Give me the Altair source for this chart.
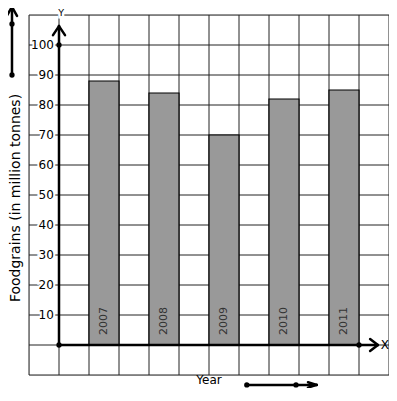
import altair as alt
import pandas as pd

# ---- data ----
years = ["2007", "2008", "2009", "2010", "2011"]
values = [88, 84, 70, 82, 85]
tick_values = [10, 20, 30, 40, 50, 60, 70, 80, 90, 100]

FONT = "DejaVu Sans"
XS = alt.Scale(domain=[0, 12], nice=False, zero=False)
YS = alt.Scale(domain=[-10, 110], nice=False, zero=False)


def X(f):
    return alt.X(f, type="quantitative", scale=XS, axis=None)


def Y(f):
    return alt.Y(f, type="quantitative", scale=YS, axis=None)


def X2(f):
    return alt.X2(f)


def Y2(f):
    return alt.Y2(f)


# bar slots (every other grid column, starting at column 2)
bars = pd.DataFrame({
    "year": years,
    "value": values,
    "x0": [2 + 2 * i for i in range(len(years))],
})
bars["x1"] = bars["x0"] + 1
bars["xc"] = bars["x0"] + 0.5
bars["ylab"] = 3.3
bars["zero"] = 0

# grid lines
vgrid = pd.DataFrame({"x": list(range(0, 13)), "y0": -10, "y1": 110})
hgrid = pd.DataFrame({"y": list(range(-10, 111, 10)), "x0": 0, "x1": 12})

grid_v = alt.Chart(vgrid).mark_rule(color="#222", strokeWidth=1).encode(
    x=X("x"), y=Y("y0"), y2=Y2("y1"))
grid_h = alt.Chart(hgrid).mark_rule(color="#222", strokeWidth=1).encode(
    y=Y("y"), x=X("x0"), x2=X2("x1"))

bar_layer = alt.Chart(bars).mark_rect(fill="#999999", stroke="black", strokeWidth=1.2).encode(
    x=X("x0"), x2=X2("x1"), y=Y("zero"), y2=Y2("value"))

bar_text = alt.Chart(bars).mark_text(
    angle=270, align="left", baseline="middle", font=FONT, fontSize=11, color="#333"
).encode(x=X("xc"), y=Y("ylab"), text="year:N")

# tick labels with white halo (hides grid line behind the number)
ticks = pd.DataFrame({"v": tick_values, "lbl": [str(v) for v in tick_values], "x": 0.83})
tick_halo = alt.Chart(ticks).mark_text(
    align="right", baseline="middle", font=FONT, fontSize=12, fill="white",
    stroke="white", strokeWidth=4
).encode(x=X("x"), y=Y("v"), text="lbl:N")
tick_text = alt.Chart(ticks).mark_text(
    align="right", baseline="middle", font=FONT, fontSize=12, color="black"
).encode(x=X("x"), y=Y("v"), text="lbl:N")

# axis lines (segments) and arrowheads
segs = pd.DataFrame([
    # y axis
    {"x0": 1, "y0": 0, "x1": 1, "y1": 106.3},
    {"x0": 0.8, "y0": 103.3, "x1": 1, "y1": 106.3},
    {"x0": 1.2, "y0": 103.3, "x1": 1, "y1": 106.3},
    # x axis
    {"x0": 1, "y0": 0, "x1": 11.63, "y1": 0},
    {"x0": 11.37, "y0": 2, "x1": 11.63, "y1": 0},
    {"x0": 11.37, "y0": -2, "x1": 11.63, "y1": 0},
    # left vertical arrow
    {"x0": -0.567, "y0": 90, "x1": -0.567, "y1": 112.7},
    {"x0": -0.74, "y0": 109.7, "x1": -0.567, "y1": 112.7},
    {"x0": -0.4, "y0": 109.7, "x1": -0.567, "y1": 112.7},
    # bottom horizontal arrow
    {"x0": 7.26, "y0": -13.3, "x1": 9.59, "y1": -13.3},
    {"x0": 9.3, "y0": -12.4, "x1": 9.59, "y1": -13.3},
    {"x0": 9.3, "y0": -14.2, "x1": 9.59, "y1": -13.3},
])
seg_layer = alt.Chart(segs).mark_rule(color="black", strokeWidth=2.5, strokeCap="round").encode(
    x=X("x0"), y=Y("y0"), x2=X2("x1"), y2=Y2("y1"))

dots = pd.DataFrame({
    "x": [1, 1, 11, -0.567, -0.567, 7.26, 8.9],
    "y": [0, 100, 0, 107, 90, -13.3, -13.3],
})
dot_layer = alt.Chart(dots).mark_circle(color="black", opacity=1, size=28).encode(
    x=X("x"), y=Y("y"))

# axis letter "Y" on a white patch that breaks the top border
ylab = pd.DataFrame({"x": [1.07], "y": [109.6], "t": ["Y"]})
ylab_halo = alt.Chart(ylab).mark_text(
    align="center", baseline="alphabetic", font=FONT, fontSize=9.5, fill="white",
    stroke="white", strokeWidth=5
).encode(x=X("x"), y=Y("y"), text="t:N")
ylab_text = alt.Chart(ylab).mark_text(
    align="center", baseline="alphabetic", font=FONT, fontSize=9.5, color="black"
).encode(x=X("x"), y=Y("y"), text="t:N")

labels = pd.DataFrame([
    {"x": 11.86, "y": -1.3, "t": "X"},
    {"x": 6.0, "y": -13.0, "t": "Year"},
])
lab_text = alt.Chart(labels).mark_text(
    align="center", baseline="alphabetic", font=FONT, fontSize=12, color="black"
).encode(x=X("x"), y=Y("y"), text="t:N")

title_df = pd.DataFrame({"x": [-0.45], "y": [49], "t": ["Foodgrains (in million tonnes)"]})
title_layer = alt.Chart(title_df).mark_text(
    angle=270, align="center", baseline="middle", font=FONT, fontSize=14, color="black"
).encode(x=X("x"), y=Y("y"), text="t:N")

chart = alt.layer(
    grid_v, grid_h, bar_layer, bar_text, tick_halo, tick_text,
    seg_layer, dot_layer, ylab_halo, ylab_text, lab_text, title_layer
).properties(
    width=360, height=360,
    autosize=alt.AutoSizeParams(type="none"),
    padding={"left": 21, "top": 7, "right": 0, "bottom": 13},
).configure_view(stroke=None).configure(background="white")

chart.save("out.html", embed_options={"renderer": "svg", "actions": False})
